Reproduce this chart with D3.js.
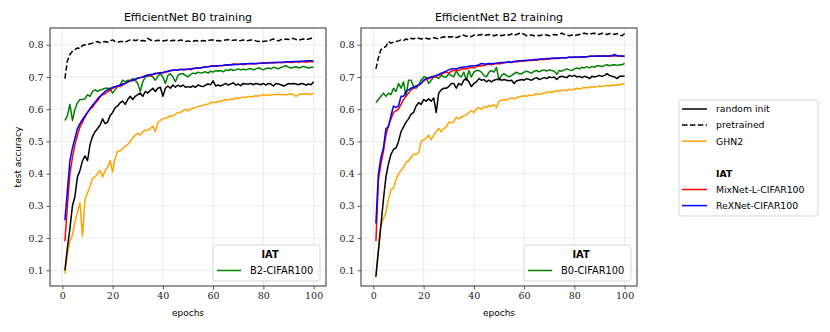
<!DOCTYPE html>
<html>
<head>
<meta charset="utf-8">
<script src="https://cdn.jsdelivr.net/npm/d3@7"></script>
<style>
  body { margin: 0; background: #fff; }
  svg { display: block; }
</style>
</head>
<body>
<div id="chart"></div>
<script>
// ---- data ----
var epochs = d3.range(1, 101);
var xTicks = [0, 20, 40, 60, 80, 100];
var yTicks = [0.1, 0.2, 0.3, 0.4, 0.5, 0.6, 0.7, 0.8];
var panelTitles = ["EfficientNet B0 training", "EfficientNet B2 training"];
var iatLabels = ["B2-CIFAR100", "B0-CIFAR100"];

var b0Pretrained = [
  0.695,0.750,0.770,0.780,0.785,0.790,0.788,0.798,0.800,0.800,
  0.803,0.805,0.808,0.810,0.806,0.808,0.810,0.808,0.812,0.815,
  0.810,0.808,0.810,0.810,0.808,0.812,0.815,0.815,0.813,0.815,
  0.812,0.813,0.812,0.820,0.815,0.813,0.812,0.814,0.813,0.812,
  0.813,0.815,0.812,0.814,0.813,0.812,0.815,0.813,0.810,0.812,
  0.810,0.811,0.813,0.812,0.811,0.813,0.812,0.813,0.815,0.815,
  0.812,0.813,0.812,0.814,0.815,0.816,0.813,0.814,0.815,0.812,
  0.813,0.815,0.812,0.813,0.815,0.815,0.812,0.810,0.812,0.810,
  0.812,0.810,0.815,0.818,0.814,0.812,0.816,0.815,0.818,0.816,
  0.818,0.820,0.816,0.814,0.816,0.818,0.815,0.818,0.820,0.818];
var b0Random = [
  0.100,0.170,0.230,0.300,0.330,0.390,0.410,0.440,0.455,0.440,
  0.490,0.515,0.530,0.540,0.550,0.570,0.555,0.560,0.580,0.590,
  0.605,0.610,0.620,0.625,0.615,0.630,0.640,0.630,0.640,0.645,
  0.650,0.640,0.655,0.650,0.658,0.665,0.655,0.665,0.668,0.640,
  0.665,0.672,0.665,0.675,0.668,0.675,0.670,0.675,0.668,0.670,
  0.668,0.672,0.668,0.675,0.672,0.670,0.675,0.678,0.676,0.688,
  0.672,0.675,0.672,0.676,0.680,0.675,0.678,0.682,0.675,0.678,
  0.673,0.680,0.678,0.678,0.680,0.676,0.680,0.678,0.676,0.680,
  0.675,0.680,0.678,0.672,0.680,0.678,0.676,0.672,0.675,0.680,
  0.678,0.680,0.678,0.676,0.680,0.678,0.675,0.678,0.676,0.685];
var b0Ghn2 = [
  0.090,0.150,0.190,0.210,0.250,0.280,0.310,0.205,0.320,0.340,
  0.360,0.385,0.390,0.400,0.410,0.390,0.410,0.420,0.440,0.405,
  0.450,0.470,0.470,0.478,0.485,0.490,0.500,0.510,0.520,0.525,
  0.520,0.530,0.535,0.535,0.540,0.548,0.530,0.558,0.565,0.570,
  0.572,0.575,0.580,0.578,0.585,0.590,0.590,0.595,0.600,0.595,
  0.600,0.603,0.605,0.608,0.610,0.612,0.615,0.615,0.620,0.622,
  0.620,0.625,0.623,0.628,0.630,0.628,0.632,0.630,0.635,0.633,
  0.635,0.638,0.636,0.640,0.638,0.640,0.642,0.640,0.643,0.645,
  0.642,0.645,0.644,0.646,0.645,0.647,0.645,0.646,0.644,0.646,
  0.648,0.645,0.640,0.645,0.648,0.646,0.648,0.647,0.645,0.650];
var b0MixNet = [
  0.190,0.300,0.400,0.450,0.490,0.520,0.545,0.560,0.575,0.590,
  0.600,0.606,0.618,0.626,0.638,0.645,0.648,0.655,0.658,0.665,
  0.668,0.672,0.670,0.675,0.680,0.685,0.690,0.688,0.692,0.697,
  0.698,0.700,0.704,0.705,0.703,0.708,0.712,0.710,0.714,0.712,
  0.716,0.716,0.719,0.720,0.722,0.722,0.724,0.722,0.723,0.725,
  0.722,0.725,0.728,0.728,0.728,0.730,0.732,0.732,0.733,0.735,
  0.733,0.735,0.736,0.735,0.738,0.737,0.738,0.740,0.740,0.739,
  0.740,0.738,0.740,0.741,0.742,0.740,0.742,0.743,0.742,0.744,
  0.742,0.745,0.744,0.743,0.745,0.746,0.744,0.745,0.746,0.747,
  0.745,0.746,0.748,0.746,0.747,0.748,0.746,0.747,0.748,0.747];
var b0ReXNet = [
  0.255,0.350,0.440,0.480,0.510,0.540,0.555,0.568,0.580,0.590,
  0.602,0.612,0.622,0.632,0.640,0.648,0.655,0.660,0.664,0.668,
  0.670,0.672,0.675,0.678,0.680,0.684,0.688,0.690,0.693,0.696,
  0.698,0.700,0.703,0.706,0.708,0.708,0.710,0.712,0.713,0.714,
  0.716,0.718,0.720,0.722,0.721,0.722,0.723,0.724,0.723,0.724,
  0.725,0.726,0.727,0.728,0.728,0.730,0.731,0.732,0.733,0.734,
  0.734,0.735,0.735,0.736,0.737,0.738,0.737,0.738,0.739,0.739,
  0.740,0.740,0.741,0.741,0.742,0.742,0.741,0.742,0.743,0.743,
  0.743,0.744,0.744,0.745,0.745,0.745,0.746,0.746,0.747,0.747,
  0.747,0.748,0.748,0.748,0.749,0.749,0.750,0.750,0.750,0.749];
var b0Iat = [
  0.565,0.580,0.615,0.565,0.600,0.620,0.630,0.630,0.632,0.645,
  0.640,0.655,0.660,0.655,0.660,0.662,0.665,0.665,0.664,0.650,
  0.660,0.670,0.675,0.690,0.685,0.690,0.688,0.695,0.690,0.680,
  0.655,0.685,0.700,0.702,0.705,0.700,0.690,0.702,0.710,0.700,
  0.680,0.705,0.710,0.700,0.685,0.705,0.710,0.710,0.705,0.700,
  0.708,0.712,0.710,0.715,0.712,0.714,0.716,0.712,0.718,0.715,
  0.720,0.718,0.720,0.716,0.722,0.720,0.724,0.720,0.722,0.725,
  0.722,0.724,0.722,0.725,0.726,0.722,0.725,0.728,0.726,0.722,
  0.726,0.728,0.725,0.730,0.728,0.725,0.730,0.732,0.735,0.730,
  0.728,0.730,0.732,0.728,0.730,0.733,0.730,0.728,0.730,0.730];

var b2Pretrained = [
  0.725,0.760,0.785,0.790,0.795,0.810,0.805,0.808,0.810,0.812,
  0.815,0.813,0.818,0.815,0.820,0.818,0.822,0.820,0.818,0.820,
  0.820,0.818,0.820,0.822,0.820,0.818,0.822,0.825,0.822,0.825,
  0.824,0.826,0.822,0.825,0.828,0.830,0.826,0.828,0.825,0.830,
  0.828,0.830,0.832,0.828,0.830,0.832,0.830,0.828,0.830,0.832,
  0.828,0.830,0.832,0.830,0.834,0.830,0.832,0.835,0.836,0.832,
  0.828,0.830,0.830,0.828,0.830,0.828,0.830,0.832,0.830,0.828,
  0.830,0.832,0.830,0.834,0.836,0.832,0.830,0.828,0.830,0.828,
  0.830,0.832,0.834,0.836,0.834,0.832,0.835,0.836,0.834,0.832,
  0.836,0.834,0.832,0.835,0.834,0.832,0.835,0.830,0.828,0.835];
var b2Random = [
  0.080,0.160,0.240,0.320,0.390,0.430,0.460,0.475,0.480,0.500,
  0.530,0.545,0.560,0.570,0.585,0.590,0.610,0.620,0.615,0.630,
  0.625,0.632,0.625,0.635,0.590,0.650,0.660,0.665,0.665,0.670,
  0.680,0.680,0.665,0.680,0.675,0.690,0.695,0.685,0.670,0.680,
  0.685,0.695,0.690,0.692,0.685,0.690,0.685,0.690,0.692,0.695,
  0.690,0.692,0.690,0.688,0.690,0.680,0.688,0.690,0.692,0.690,
  0.695,0.692,0.690,0.695,0.698,0.692,0.695,0.698,0.695,0.700,
  0.698,0.700,0.692,0.700,0.702,0.700,0.698,0.705,0.702,0.705,
  0.700,0.702,0.698,0.702,0.700,0.695,0.702,0.700,0.702,0.705,
  0.702,0.705,0.710,0.705,0.702,0.700,0.695,0.702,0.702,0.703];
var b2Ghn2 = [
  0.080,0.170,0.240,0.260,0.280,0.320,0.350,0.355,0.380,0.400,
  0.410,0.420,0.435,0.440,0.450,0.460,0.460,0.465,0.500,0.505,
  0.510,0.520,0.505,0.520,0.530,0.540,0.530,0.540,0.545,0.560,
  0.558,0.560,0.575,0.570,0.575,0.580,0.582,0.590,0.595,0.590,
  0.600,0.605,0.600,0.608,0.605,0.612,0.608,0.615,0.605,0.625,
  0.628,0.630,0.628,0.632,0.635,0.632,0.636,0.638,0.640,0.642,
  0.640,0.644,0.642,0.645,0.648,0.646,0.648,0.650,0.652,0.655,
  0.652,0.655,0.658,0.656,0.658,0.660,0.658,0.662,0.660,0.662,
  0.665,0.663,0.665,0.668,0.666,0.668,0.670,0.668,0.670,0.672,
  0.670,0.672,0.674,0.672,0.675,0.674,0.676,0.675,0.678,0.680];
var b2MixNet = [
  0.190,0.380,0.430,0.470,0.520,0.550,0.570,0.590,0.595,0.600,
  0.615,0.630,0.640,0.650,0.660,0.665,0.670,0.675,0.680,0.688,
  0.692,0.695,0.698,0.700,0.702,0.705,0.708,0.712,0.715,0.712,
  0.718,0.720,0.722,0.720,0.725,0.726,0.725,0.728,0.730,0.728,
  0.732,0.735,0.734,0.736,0.738,0.740,0.738,0.740,0.742,0.741,
  0.742,0.744,0.745,0.746,0.745,0.748,0.747,0.748,0.750,0.749,
  0.750,0.752,0.751,0.753,0.752,0.754,0.755,0.754,0.756,0.755,
  0.757,0.758,0.757,0.758,0.760,0.759,0.760,0.762,0.760,0.761,
  0.762,0.760,0.762,0.763,0.762,0.764,0.765,0.764,0.765,0.764,
  0.765,0.766,0.765,0.764,0.766,0.765,0.766,0.765,0.764,0.765];
var b2ReXNet = [
  0.245,0.400,0.450,0.480,0.540,0.545,0.580,0.610,0.605,0.610,
  0.640,0.640,0.655,0.660,0.665,0.668,0.672,0.675,0.680,0.690,
  0.695,0.698,0.700,0.702,0.705,0.708,0.712,0.715,0.718,0.722,
  0.725,0.726,0.725,0.728,0.730,0.731,0.732,0.733,0.734,0.735,
  0.736,0.738,0.742,0.740,0.740,0.742,0.741,0.742,0.743,0.744,
  0.745,0.745,0.746,0.747,0.746,0.748,0.749,0.750,0.750,0.751,
  0.752,0.752,0.753,0.754,0.754,0.755,0.756,0.756,0.757,0.757,
  0.758,0.758,0.759,0.759,0.760,0.760,0.760,0.761,0.761,0.762,
  0.762,0.762,0.763,0.763,0.763,0.764,0.764,0.764,0.765,0.765,
  0.765,0.765,0.764,0.766,0.766,0.770,0.766,0.765,0.765,0.764];
var b2Iat = [
  0.620,0.630,0.640,0.650,0.640,0.650,0.645,0.665,0.655,0.680,
  0.665,0.685,0.640,0.690,0.690,0.670,0.665,0.675,0.690,0.700,
  0.700,0.680,0.690,0.700,0.700,0.695,0.705,0.700,0.700,0.710,
  0.705,0.700,0.720,0.705,0.700,0.715,0.690,0.720,0.700,0.715,
  0.720,0.720,0.715,0.705,0.700,0.715,0.720,0.715,0.730,0.690,
  0.705,0.710,0.705,0.700,0.705,0.710,0.715,0.710,0.710,0.715,
  0.718,0.715,0.712,0.718,0.720,0.716,0.720,0.722,0.718,0.722,
  0.720,0.718,0.708,0.720,0.718,0.722,0.725,0.722,0.720,0.725,
  0.728,0.725,0.730,0.728,0.732,0.728,0.733,0.730,0.735,0.735,
  0.732,0.736,0.738,0.735,0.737,0.738,0.736,0.738,0.738,0.742];

// draw order as in the original (green IAT under the others)
var panels = [
  [b0Iat, b0Ghn2, b0Random, b0Pretrained, b0MixNet, b0ReXNet],
  [b2Iat, b2Ghn2, b2Random, b2Pretrained, b2MixNet, b2ReXNet]
];
var seriesStyle = [
  {color: "green"}, {color: "orange"}, {color: "black"},
  {color: "black", dash: "5.5,2.4"}, {color: "red"}, {color: "blue"}
];

// ---- layout ----
var W = 830, H = 332;
var frames = [{x0: 50, x1: 326}, {x0: 361, x1: 637}];
var plotTop = 28, plotBottom = 286;
var tickFont = "'DejaVu Serif', serif";
var sansFont = "'DejaVu Sans', sans-serif";

var svg = d3.select("#chart").append("svg")
  .attr("width", W).attr("height", H);

var y = d3.scaleLinear().domain([0.0513, 0.852]).range([plotBottom, plotTop]);

frames.forEach(function(f, pi) {
  var x = d3.scaleLinear().domain([-4.93, 104.93]).range([f.x0, f.x1]);
  var g = svg.append("g");

  // grid
  g.append("g").selectAll("line").data(xTicks).enter().append("line")
    .attr("x1", function(d) { return x(d); }).attr("x2", function(d) { return x(d); })
    .attr("y1", plotTop).attr("y2", plotBottom)
    .attr("stroke", "#e6e6e6").attr("stroke-width", 0.8);
  g.append("g").selectAll("line").data(yTicks).enter().append("line")
    .attr("y1", function(d) { return y(d); }).attr("y2", function(d) { return y(d); })
    .attr("x1", f.x0).attr("x2", f.x1)
    .attr("stroke", "#e6e6e6").attr("stroke-width", 0.8);

  // lines
  var line = d3.line()
    .x(function(d, i) { return x(epochs[i]); })
    .y(function(d) { return y(d); });
  g.append("defs").append("clipPath").attr("id", "clip" + pi)
    .append("rect").attr("x", f.x0).attr("y", plotTop)
    .attr("width", f.x1 - f.x0).attr("height", plotBottom - plotTop);
  var lines = g.append("g").attr("clip-path", "url(#clip" + pi + ")");
  panels[pi].forEach(function(vals, si) {
    var st = seriesStyle[si];
    lines.append("path").datum(vals)
      .attr("d", line)
      .attr("fill", "none")
      .attr("stroke", st.color)
      .attr("stroke-width", 1.5)
      .attr("stroke-linejoin", "round")
      .attr("stroke-dasharray", st.dash || null);
  });

  // axes
  var xAxis = d3.axisBottom(x).tickValues(xTicks).tickSize(3.5).tickPadding(3)
    .tickFormat(d3.format("d"));
  var ax = g.append("g").attr("transform", "translate(0," + plotBottom + ")").call(xAxis);
  var yAxis = d3.axisLeft(y).tickValues(yTicks).tickSize(3.5).tickPadding(3)
    .tickFormat(d3.format(".1f"));
  var ay = g.append("g").attr("transform", "translate(" + f.x0 + ",0)").call(yAxis);
  [ax, ay].forEach(function(a) {
    a.select(".domain").remove();
    a.selectAll(".tick line").attr("stroke", "#333").attr("stroke-width", 0.8);
    a.selectAll(".tick text").attr("fill", "#222")
      .style("font-family", tickFont).style("font-size", "9.5px");
  });

  // frame
  g.append("rect").attr("x", f.x0).attr("y", plotTop)
    .attr("width", f.x1 - f.x0).attr("height", plotBottom - plotTop)
    .attr("fill", "none").attr("stroke", "#333").attr("stroke-width", 1);

  // title + x label
  g.append("text").attr("x", (f.x0 + f.x1) / 2).attr("y", 21)
    .attr("text-anchor", "middle")
    .style("font-family", sansFont).style("font-size", "11px")
    .text(panelTitles[pi]);
  g.append("text").attr("x", (f.x0 + f.x1) / 2).attr("y", 316)
    .attr("text-anchor", "middle")
    .style("font-family", sansFont).style("font-size", "9px")
    .text("epochs");

  // inner legend
  var lx = f.x1 - 113, ly = 245;
  var lg = g.append("g");
  lg.append("rect").attr("x", lx).attr("y", ly).attr("width", 107).attr("height", 36)
    .attr("rx", 2.5).attr("fill", "white").attr("fill-opacity", 0.85)
    .attr("stroke", "#ccc").attr("stroke-width", 0.8);
  lg.append("text").attr("x", lx + 57).attr("y", ly + 13)
    .attr("text-anchor", "middle")
    .style("font-family", sansFont).style("font-size", "9.8px").style("font-weight", "bold")
    .text("IAT");
  lg.append("line").attr("x1", lx + 4).attr("x2", lx + 28)
    .attr("y1", ly + 25.5).attr("y2", ly + 25.5)
    .attr("stroke", "green").attr("stroke-width", 1.5);
  lg.append("text").attr("x", lx + 37).attr("y", ly + 29)
    .style("font-family", sansFont).style("font-size", "9.8px")
    .text(iatLabels[pi]);
});

// y label
svg.append("text")
  .attr("transform", "translate(21," + ((plotTop + plotBottom) / 2) + ") rotate(-90)")
  .attr("text-anchor", "middle")
  .style("font-family", sansFont).style("font-size", "9px")
  .text("test accuracy");

// outer legend
var legendItems = [
  {label: "random init", color: "black"},
  {label: "pretrained", color: "black", dash: "5.5,2.4"},
  {label: "GHN2", color: "orange"},
  {label: ""},
  {label: "IAT", bold: true},
  {label: "MixNet-L-CIFAR100", color: "red"},
  {label: "ReXNet-CIFAR100", color: "blue"}
];
var LX = 679, LY = 100;
var leg = svg.append("g");
leg.append("rect").attr("x", LX).attr("y", LY).attr("width", 139).attr("height", 116)
  .attr("rx", 2.5).attr("fill", "white").attr("stroke", "#ccc").attr("stroke-width", 0.8);
legendItems.forEach(function(d, i) {
  var cy = LY + 9 + i * 16.1;
  if (d.color) {
    leg.append("line").attr("x1", LX + 3).attr("x2", LX + 28)
      .attr("y1", cy).attr("y2", cy)
      .attr("stroke", d.color).attr("stroke-width", 1.5)
      .attr("stroke-dasharray", d.dash || null);
  }
  leg.append("text").attr("x", LX + 37).attr("y", cy + 3.3)
    .style("font-family", sansFont).style("font-size", "9.3px")
    .style("font-weight", d.bold ? "bold" : null)
    .text(d.label);
});
</script>
</body>
</html>
